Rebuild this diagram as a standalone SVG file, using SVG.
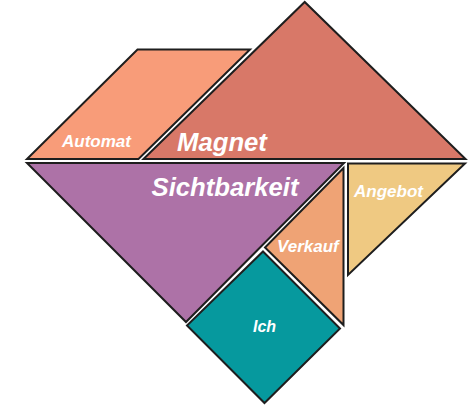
<svg xmlns="http://www.w3.org/2000/svg" width="469" height="405" viewBox="0 0 469 405">
  <style>
    .piece { stroke: #1e1e1e; stroke-width: 2; stroke-linejoin: miter; }
    .lbl { font-family: "Liberation Sans", Arial, sans-serif; font-weight: bold; font-style: italic; fill: #ffffff; }
    .big { font-size: 25.7px; }
    .small { font-size: 17px; }
  </style>
  <rect width="469" height="405" fill="#ffffff"/>
  <g id="automat">
    <polygon class="piece" fill="#F89C79" points="137.5,49.5 250,49.5 138.5,159 27,159"/>
    <text class="lbl small" x="62" y="147">Automat</text>
  </g>
  <g id="magnet">
    <polygon class="piece" fill="#D87868" points="143.5,159 304.7,2 465.5,159"/>
    <text class="lbl big" x="177" y="151">Magnet</text>
  </g>
  <g id="sichtbarkeit">
    <polygon class="piece" fill="#AD72A7" points="27,163 344,163 186,322"/>
    <text class="lbl big" x="151.5" y="196">Sichtbarkeit</text>
  </g>
  <g id="angebot">
    <polygon class="piece" fill="#EFC982" points="348,163.5 465,163.5 348,275"/>
    <text class="lbl small" x="354" y="197">Angebot</text>
  </g>
  <g id="verkauf">
    <polygon class="piece" fill="#EFA375" points="343.5,168 265,247.5 343.5,325"/>
    <text class="lbl small" x="277" y="252">Verkauf</text>
  </g>
  <g id="ich">
    <polygon class="piece" fill="#06999E" points="263,251.5 340,328.5 264.5,403 187,325.5"/>
    <text class="lbl" font-size="16" x="253" y="332">Ich</text>
  </g>
  <g id="connectors"/>
</svg>
